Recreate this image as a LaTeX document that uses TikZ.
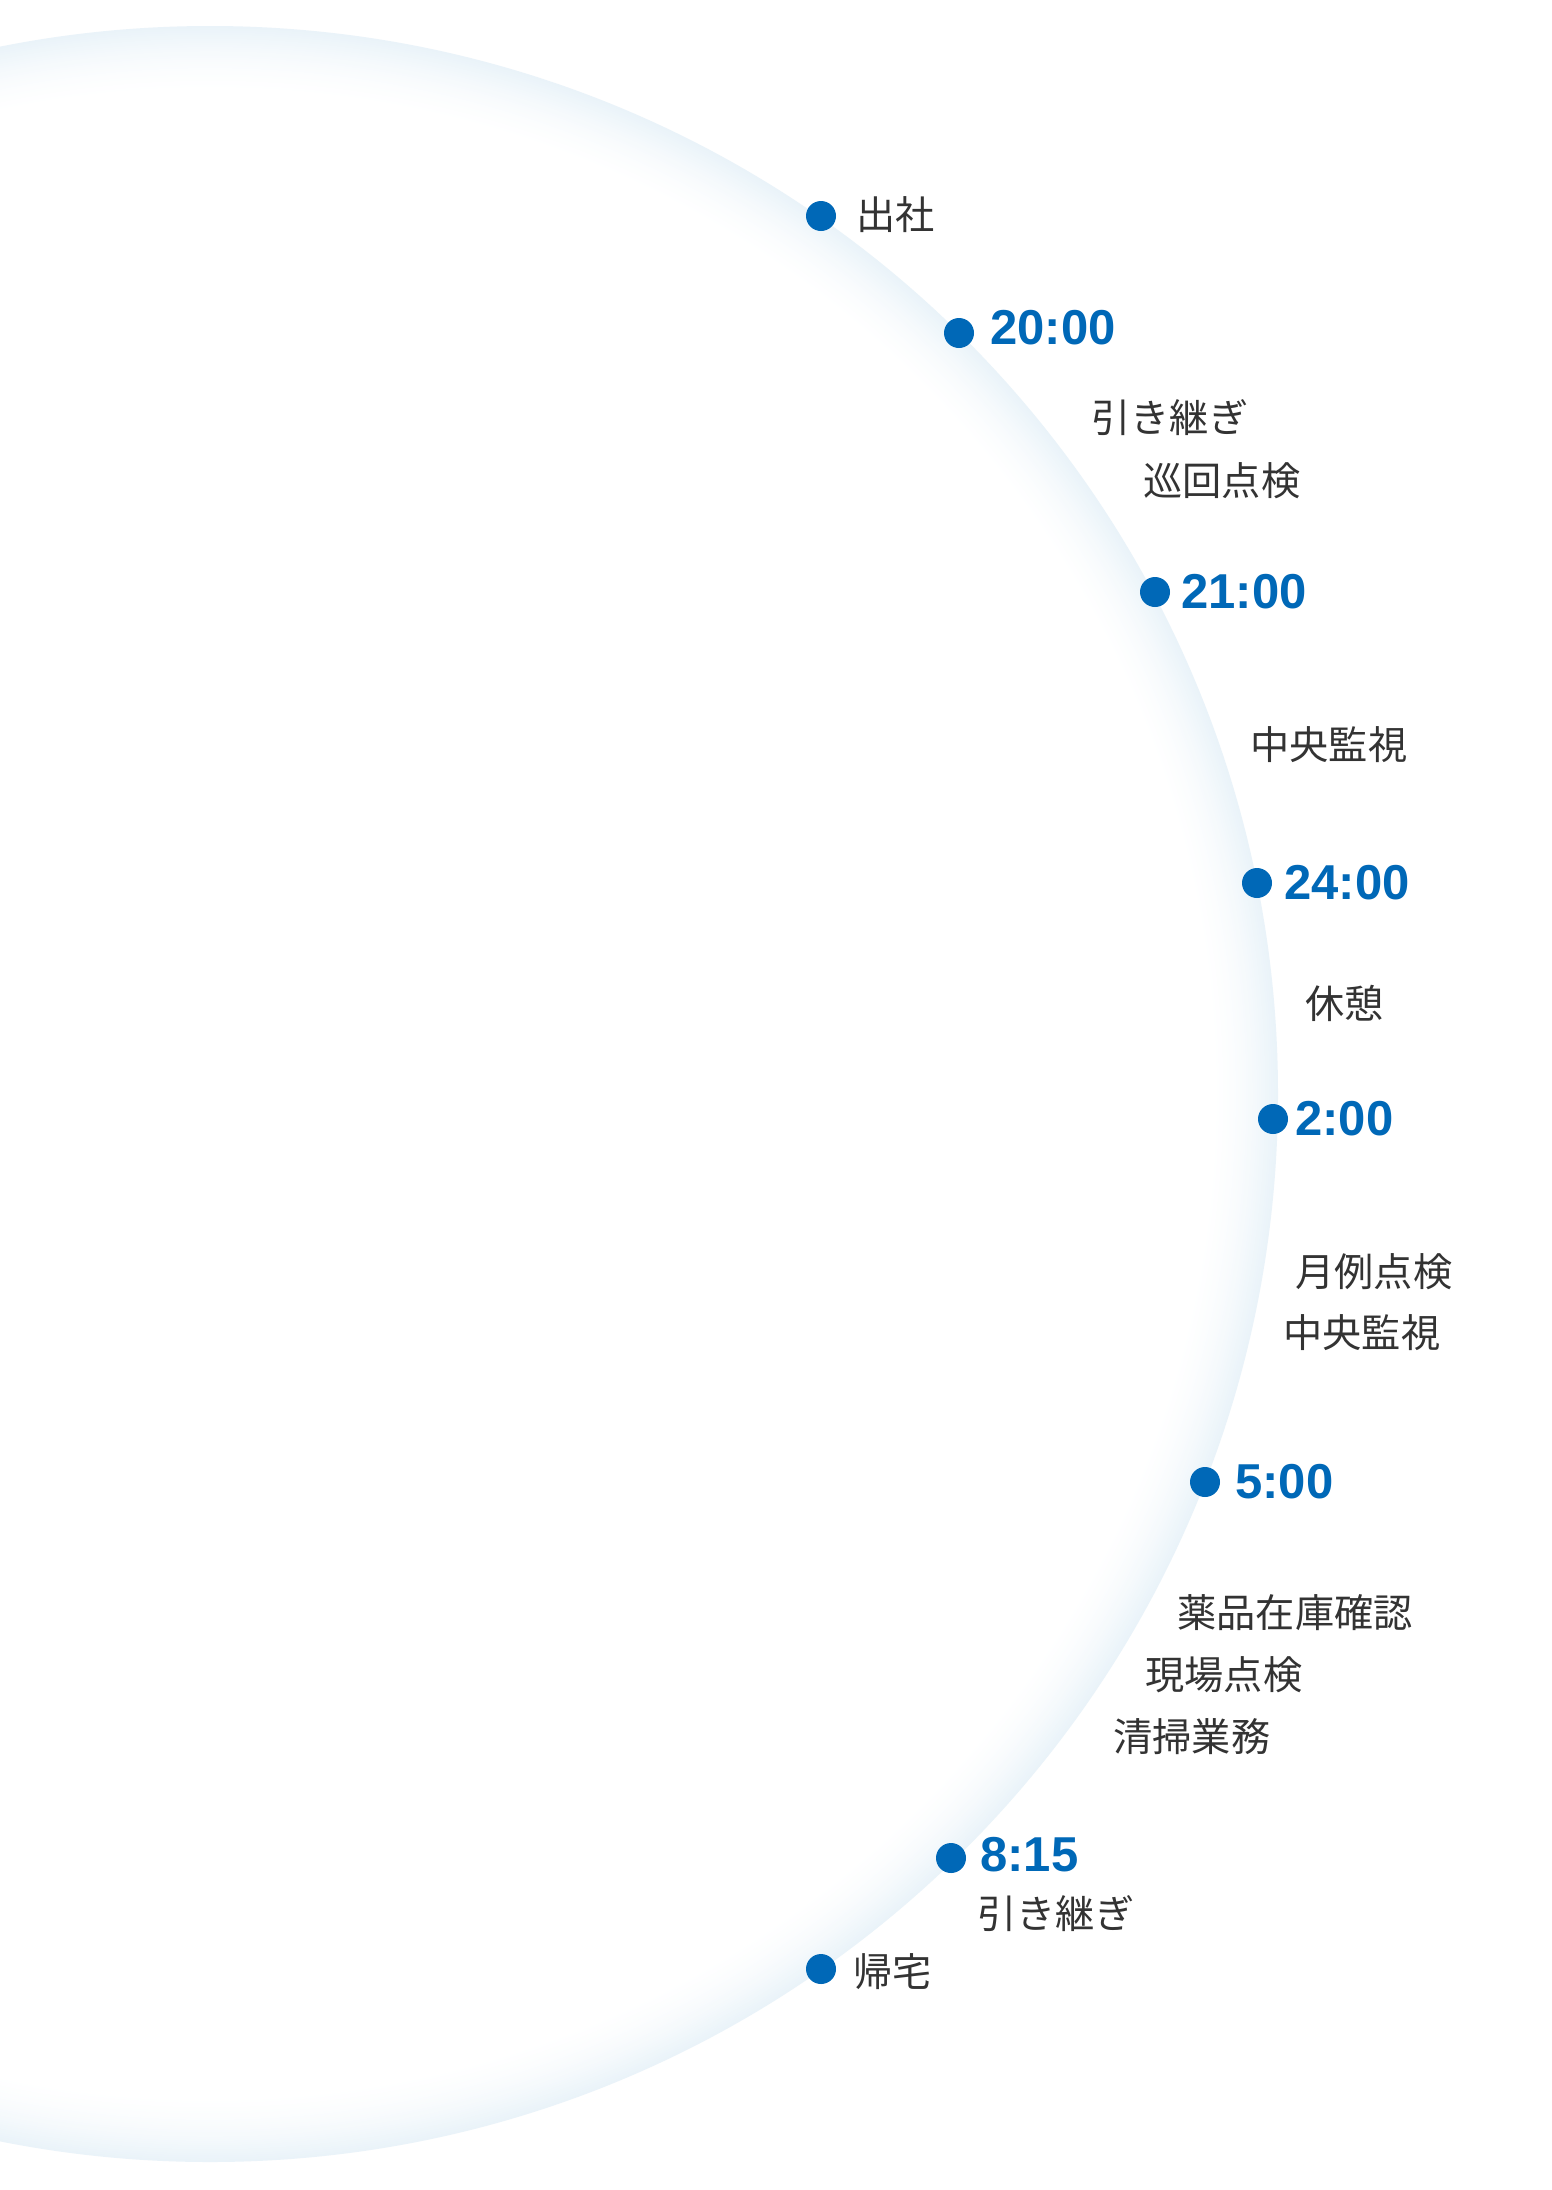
\documentclass[tikz,border=0pt]{standalone}
\usepackage{fontspec}
\newfontfamily\jp{Noto Sans CJK JP}
\newfontfamily\num{Liberation Sans}
\definecolor{dotblue}{RGB}{0,104,183}
\definecolor{txtgray}{RGB}{51,51,51}
\definecolor{ringc}{RGB}{234,243,249}
\tikzset{
  dotmark/.style={circle,fill=dotblue,draw=none,inner sep=0pt,minimum size=15pt},
  timelbl/.style={anchor=west,inner sep=0pt,text=dotblue,font=\num\bfseries\fontsize{24.5pt}{26pt}\selectfont},
  tasklbl/.style={anchor=west,inner sep=0pt,text=txtgray,font=\jp\fontsize{19.6pt}{22pt}\selectfont}
}
\begin{document}
\begin{tikzpicture}[x=0.5pt,y=-0.5pt]
\useasboundingbox (0,0) rectangle (1552,2190);
\clip (0,0) rectangle (1552,2190);
\fill[white] (0,0) rectangle (1552,2190);
\foreach \i in {0,...,32}{
  \pgfmathsetmacro\pp{100*(1-\i/32)^1.7}
  \pgfmathsetmacro\rr{(1068-2.1*\i)*0.5}
  \fill[ringc!\pp!white] (210,1094) circle (\rr pt);
}
% dots
\node[dotmark] (d1) at (821,216) {};
\node[dotmark] (d2) at (959,333) {};
\node[dotmark] (d3) at (1155,592) {};
\node[dotmark] (d4) at (1257,883) {};
\node[dotmark] (d5) at (1273,1119) {};
\node[dotmark] (d6) at (1205,1482) {};
\node[dotmark] (d7) at (951,1858) {};
\node[dotmark] (d8) at (821,1969) {};
% times
\node[timelbl] (t2) at (990,328) {20:00};
\node[timelbl] (t3) at (1181,592) {21:00};
\node[timelbl] (t4) at (1284,883) {24:00};
\node[timelbl] (t5) at (1295,1119) {2:00};
\node[timelbl] (t6) at (1235,1482) {5:00};
\node[timelbl] (t7) at (980,1855) {8:15};
% tasks
\node[tasklbl] (a1) at (856,215) {出社};
\node[tasklbl] (a2) at (1091,418) {引き継ぎ};
\node[tasklbl] (a3) at (1143,481) {巡回点検};
\node[tasklbl] (a4) at (1250,745) {中央監視};
\node[tasklbl] (a5) at (1305,1003) {休憩};
\node[tasklbl] (a6) at (1295,1272) {月例点検};
\node[tasklbl] (a7) at (1283,1333) {中央監視};
\node[tasklbl] (a8) at (1177,1613) {薬品在庫確認};
\node[tasklbl] (a9) at (1145,1675) {現場点検};
\node[tasklbl] (a10) at (1113,1737) {清掃業務};
\node[tasklbl] (a11) at (977,1914) {引き継ぎ};
\node[tasklbl] (a12) at (853,1972) {帰宅};
\end{tikzpicture}
\end{document}
